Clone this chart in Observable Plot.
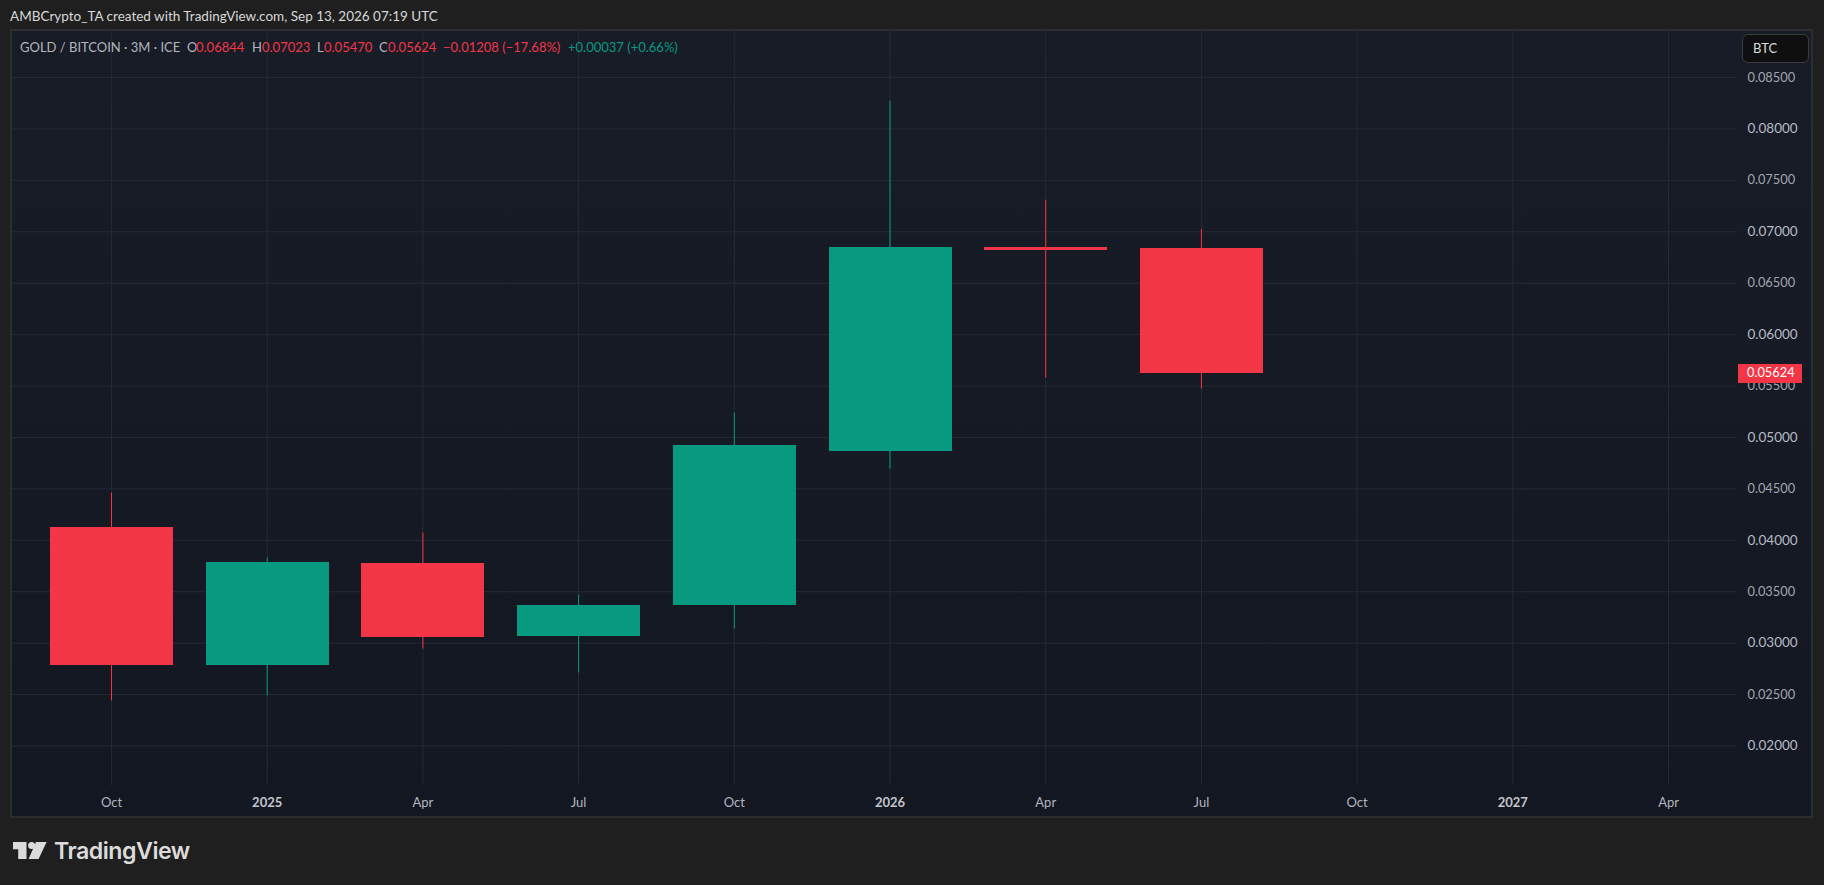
<!DOCTYPE html>
<html>
<head>
<meta charset="utf-8">
<script src="https://cdn.jsdelivr.net/npm/d3@7"></script>
<script src="https://cdn.jsdelivr.net/npm/@observablehq/plot@0.6"></script>
<style>
html,body{margin:0;padding:0;background:#1f1f1f;width:1824px;height:885px;overflow:hidden;font-family:Lato,"Noto Sans",sans-serif}
#pane{position:absolute;left:10px;top:29px;width:1799px;height:785px;border:2px solid #2b2d31;background:linear-gradient(#181c27,#131722)}
#chart{position:absolute;left:0;top:0}
.t{position:absolute;white-space:pre;line-height:16px}
#btc{position:absolute;left:1742px;top:34px;width:65px;height:27px;border:1px solid #3b3b3b;border-radius:6px;background:#0f0f0f;color:#dbdbdb;font-size:13px;line-height:27px;text-indent:10px}
#logo{position:absolute;left:13px;top:842px}
#brand{position:absolute;left:54px;top:836px;font:600 23.2px/30px Inter,Lato,sans-serif;color:#dbdbdb;letter-spacing:-.5px}
</style>
</head>
<body>
<div id="pane"></div>
<div id="chart"></div>
<div id="head"></div>
<div id="btc">BTC</div>
<svg id="logo" width="36" height="18" viewBox="0 0 36 18"><path fill="#dbdbdb" d="M0 0H13.5V17H5.2V7.2H0Z"/><circle fill="#dbdbdb" cx="18.6" cy="3.5" r="3.5"/><path fill="#dbdbdb" d="M23 0H33.6L25.6 17H15.6Z"/></svg>
<div id="brand">TradingView</div>
<script>
const labels = ["Oct","2025","Apr","Jul","Oct","2026","Apr","Jul","Oct","2027","Apr"];
const yearLabels = ["2025","2026","2027"];
const opens  = [0.04128,0.02787,0.03779,0.03069,0.03371,0.04868,0.06850,0.06844];
const highs  = [0.04459,0.03828,0.04071,0.03468,0.05237,0.08270,0.07307,0.07023];
const lows   = [0.02437,0.02486,0.02943,0.02710,0.03137,0.04693,0.05577,0.05470];
const closes = [0.02787,0.03789,0.03060,0.03371,0.04926,0.06850,0.06820,0.05624];
const majorTicks = [0.08,0.07,0.06,0.05,0.04,0.03,0.02];
const minorTicks = [0.085,0.075,0.065,0.055,0.045,0.035,0.025];
const lastClose = 0.05624;
const RED = "#f33646", GREEN = "#089981";

const candles = opens.map((o,i)=>({i,o,h:highs[i],l:lows[i],c:closes[i],col:closes[i]>=o?GREEN:RED}));
const idx = labels.map((_,i)=>i);
const monthIdx = idx.filter(i=>!yearLabels.includes(labels[i]));
const yearIdx = idx.filter(i=>yearLabels.includes(labels[i]));
const half = 0.395;

const plot = Plot.plot({
  width:1824,height:885,
  marginLeft:12,marginRight:87,marginTop:31,marginBottom:100,
  style:{background:"transparent",fontFamily:"Lato, 'Noto Sans', sans-serif",fontSize:"13px",color:"#b2b5be"},
  x:{domain:[-0.6358,10.443],label:null},
  y:{domain:[0.01616,0.089473],label:null},
  marks:[
    Plot.gridX(idx,{stroke:"#262a35",strokeOpacity:1}),
    Plot.gridY(minorTicks.concat(majorTicks),{stroke:"#262a35",strokeOpacity:1}),
    Plot.ruleX(candles,{x:"i",y1:"l",y2:"h",stroke:"col",strokeWidth:1}),
    Plot.rect(candles,{x1:d=>d.i-half,x2:d=>d.i+half,y1:"o",y2:"c",fill:"col",shapeRendering:"crispEdges",dx:0.5,dy:0.5}),
    Plot.axisX({ticks:monthIdx,tickFormat:i=>labels[i],tickSize:0,tickPadding:12,anchor:"bottom",label:null,fill:"#b2b5be",fontSize:13}),
    Plot.axisX({ticks:yearIdx,tickFormat:i=>labels[i],tickSize:0,tickPadding:12,anchor:"bottom",label:null,fill:"#c3c5cd",fontWeight:700,fontSize:13}),
    Plot.axisY({ticks:minorTicks,tickFormat:d3.format(".5f"),tickSize:0,tickPadding:10,anchor:"right",label:null,fill:"#a3a6af",fontSize:12.8}),
    Plot.axisY({ticks:majorTicks,tickFormat:d3.format(".5f"),tickSize:0,tickPadding:10,anchor:"right",label:null,fill:"#b8bbc4",fontSize:13.5}),
    Plot.rect([lastClose],{x1:10.446,x2:10.858,y1:d=>d-0.00095,y2:d=>d+0.00089,fill:RED,shapeRendering:"crispEdges",dx:0.5,dy:0.5}),
    Plot.text([lastClose],{x:10.504,y:d=>d,text:d=>d3.format(".5f")(d),textAnchor:"start",fill:"#fff",fontSize:12.8})
  ]
});
document.getElementById("chart").append(plot);

const head = [
 ["AMBCrypto_TA created with TradingView.com, Sep 13, 2026 07:19 UTC",10,8,"#d8d8d8",13.5],
 ["GOLD / BITCOIN · 3M · ICE",20,38.5,"#b2b5be",13],
 ["O",187,38.5,"#b2b5be",13],["0.06844",196,38.5,RED,13],
 ["H",252,38.5,"#b2b5be",13],["0.07023",262,38.5,RED,13],
 ["L",317,38.5,"#b2b5be",13],["0.05470",324,38.5,RED,13],
 ["C",379,38.5,"#b2b5be",13],["0.05624",388,38.5,RED,13],
 ["−0.01208 (−17.68%)",443,38.5,RED,13],
 ["+0.00037 (+0.66%)",568,38.5,GREEN,13]
];
const h = document.getElementById("head");
for(const [s,x,y,c,f] of head){
  const e=document.createElement("div");e.className="t";e.textContent=s;
  e.style.cssText=`left:${x}px;top:${y}px;color:${c};font-size:${f}px`;h.append(e);
}
</script>
</body>
</html>
